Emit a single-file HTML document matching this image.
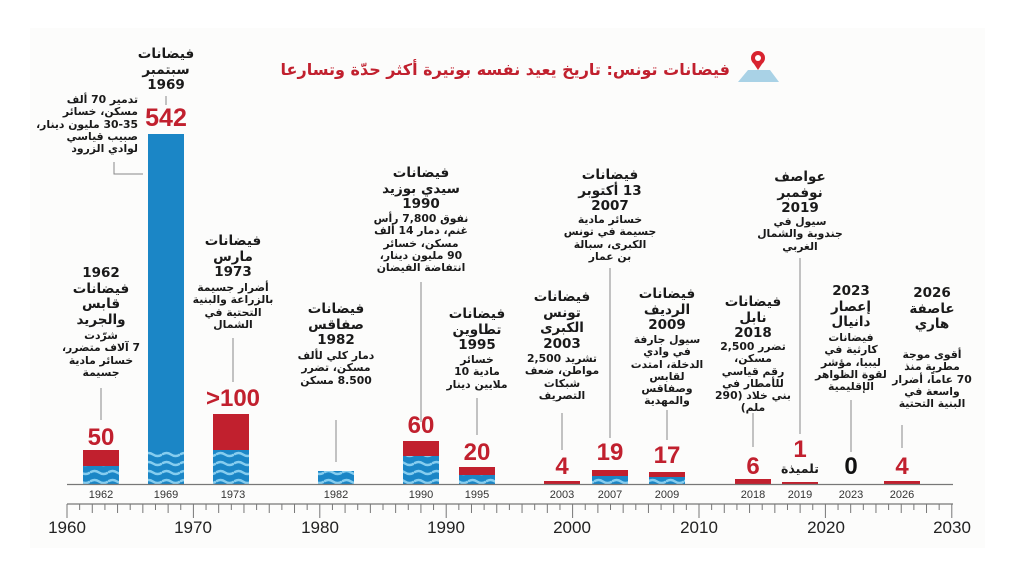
<!DOCTYPE html>
<html><head><meta charset="utf-8"><style>
body{margin:0;background:#fff;}
#c{position:relative;width:1024px;height:576px;overflow:hidden;background:#fff;font-family:"DejaVu Sans","Liberation Sans",sans-serif;}
.t{position:absolute;width:130px;text-align:center;direction:rtl;color:#1a1a1a;font-weight:bold;font-size:13.5px;line-height:15.5px;}
.d{position:absolute;width:130px;text-align:center;direction:rtl;color:#1a1a1a;font-size:10.8px;line-height:12.3px;font-weight:bold;letter-spacing:-0.3px}
.n{position:absolute;width:80px;text-align:center;color:#c1202e;font-weight:bold;font-size:24px;font-family:"Liberation Sans",sans-serif;}
svg text{font-family:"Liberation Sans",sans-serif;}
</style></head><body><div id="c">
<svg width="1024" height="576" style="position:absolute;left:0;top:0">
<defs><pattern id="w" width="18" height="9" patternUnits="userSpaceOnUse"><rect width="18" height="9" fill="#1b86c6"/><path d="M0 4.5 q4.5 -3 9 0 t9 0" stroke="#86cdef" stroke-width="2.5" fill="none"/></pattern></defs>
<rect x="30" y="28" width="955" height="520" fill="#fcfcfb"/>
<rect x="148" y="134" width="36" height="316" fill="#1b86c6"/><rect x="148" y="450" width="36" height="34" fill="url(#w)"/>
<rect x="83" y="450" width="36" height="18" fill="#c1202e"/><rect x="83" y="466" width="36" height="18" fill="url(#w)"/>
<rect x="213" y="414" width="36" height="38" fill="#c1202e"/><rect x="213" y="450" width="36" height="34" fill="url(#w)"/>
<rect x="318" y="471" width="36" height="13" fill="url(#w)"/>
<rect x="403" y="441" width="36" height="17" fill="#c1202e"/><rect x="403" y="456" width="36" height="28" fill="url(#w)"/>
<rect x="459" y="467" width="36" height="10" fill="#c1202e"/><rect x="459" y="475" width="36" height="9" fill="url(#w)"/>
<rect x="592" y="470" width="36" height="7" fill="#c1202e"/><rect x="592" y="476" width="36" height="8" fill="url(#w)"/>
<rect x="649" y="472" width="36" height="6" fill="#c1202e"/><rect x="649" y="477" width="36" height="7" fill="url(#w)"/>
<rect x="544" y="481" width="36" height="3" fill="#c1202e"/>
<rect x="735" y="479" width="36" height="5" fill="#c1202e"/>
<rect x="782" y="482" width="36" height="2" fill="#c1202e"/>
<rect x="884" y="481" width="36" height="3" fill="#c1202e"/>
<line x1="67" y1="484.5" x2="953" y2="484.5" stroke="#777" stroke-width="1.2"/>
<g stroke="#888" stroke-width="1" fill="none">
<line x1="166" y1="96" x2="166" y2="105"/>
<polyline points="114,162 114,174 143,174"/>
<line x1="101" y1="388" x2="101" y2="420"/>
<line x1="233" y1="338" x2="233" y2="382"/>
<line x1="336" y1="420" x2="336" y2="462"/>
<line x1="421" y1="282" x2="421" y2="422"/>
<line x1="477" y1="398" x2="477" y2="435"/>
<line x1="562" y1="413" x2="562" y2="450"/>
<line x1="610" y1="268" x2="610" y2="438"/>
<line x1="667" y1="410" x2="667" y2="440"/>
<line x1="753" y1="413" x2="753" y2="447"/>
<line x1="800" y1="258" x2="800" y2="434"/>
<line x1="851" y1="400" x2="851" y2="452"/>
<line x1="902" y1="425" x2="902" y2="448"/>
</g>
<line x1="67" y1="504" x2="953" y2="504" stroke="#777" stroke-width="1.2"/>
<g stroke="#777" stroke-width="1" id="ticks"></g>
<g font-size="11" fill="#333" text-anchor="middle">
<text x="101" y="498">1962</text><text x="166" y="498">1969</text><text x="233" y="498">1973</text><text x="336" y="498">1982</text><text x="421" y="498">1990</text><text x="477" y="498">1995</text><text x="562" y="498">2003</text><text x="610" y="498">2007</text><text x="667" y="498">2009</text><text x="753" y="498">2018</text><text x="800" y="498">2019</text><text x="851" y="498">2023</text><text x="902" y="498">2026</text>
</g>
<g font-size="17" fill="#222" text-anchor="middle">
<text x="67" y="533">1960</text><text x="193" y="533">1970</text><text x="320" y="533">1980</text><text x="446" y="533">1990</text><text x="572" y="533">2000</text><text x="699" y="533">2010</text><text x="826" y="533">2020</text><text x="952" y="533">2030</text>
</g>
<path d="M738 82 L748 70 L770 70 L779 82 Z" fill="#a9d2e6"/>
<circle cx="758" cy="58" r="7" fill="#d8232f"/><path d="M752 61 L758 70 L764 61Z" fill="#d8232f"/><circle cx="758" cy="58" r="3" fill="#fff"/>
</svg>
<script>
var g=document.getElementById('ticks'),s='';
for(var i=0;i<=70;i++){var x=67+i*12.64;var L=(i%10==0)?14:(i%2==0?9:6);s+='<line x1="'+x+'" y1="504" x2="'+x+'" y2="'+(504+L)+'"/>';}
g.innerHTML=s;
</script>
<div style="position:absolute;left:280px;top:60px;width:450px;text-align:right;direction:rtl;color:#c1202e;font-weight:bold;font-size:16px">فيضانات تونس: تاريخ يعيد نفسه بوتيرة أكثر حدّة وتسارعا</div>

<div class="t" style="left:101px;top:47px">فيضانات<br>سبتمبر<br>1969</div>
<div class="n" style="left:126px;top:104px;font-size:25px">542</div>
<div class="d" style="left:8px;top:94px;width:130px;text-align:right">تدمير 70 ألف<br>مسكن، خسائر<br>30-35 مليون دينار،<br>صبيب قياسي<br>لوادي الزرود</div>

<div class="t" style="left:36px;top:266px">1962<br>فيضانات<br>قابس<br>والجريد</div>
<div class="d" style="left:36px;top:330px">شرّدت<br>7 آلاف متضرر،<br>خسائر مادية<br>جسيمة</div>
<div class="n" style="left:61px;top:424px">50</div>

<div class="t" style="left:168px;top:234px">فيضانات<br>مارس<br>1973</div>
<div class="d" style="left:168px;top:282px">أضرار جسيمة<br>بالزراعة والبنية<br>التحتية في<br>الشمال</div>
<div class="n" style="left:193px;top:385px">&gt;100</div>

<div class="t" style="left:271px;top:302px">فيضانات<br>صفاقس<br>1982</div>
<div class="d" style="left:271px;top:350px">دمار كلي لألف<br>مسكن، تضرر<br>8.500 مسكن</div>

<div class="t" style="left:356px;top:166px">فيضانات<br>سيدي بوزيد<br>1990</div>
<div class="d" style="left:356px;top:213px">نفوق 7,800 رأس<br>غنم، دمار 14 ألف<br>مسكن، خسائر<br>90 مليون دينار،<br>انتفاضة الفيضان</div>
<div class="n" style="left:381px;top:412px">60</div>

<div class="t" style="left:412px;top:307px">فيضانات<br>تطاوين<br>1995</div>
<div class="d" style="left:412px;top:354px">خسائر<br>مادية 10<br>ملايين دينار</div>
<div class="n" style="left:437px;top:439px">20</div>

<div class="t" style="left:497px;top:290px">فيضانات<br>تونس<br>الكبرى<br>2003</div>
<div class="d" style="left:497px;top:353px">تشريد 2,500<br>مواطن، ضعف<br>شبكات<br>التصريف</div>
<div class="n" style="left:522px;top:453px">4</div>

<div class="t" style="left:545px;top:168px">فيضانات<br>13 أكتوبر<br>2007</div>
<div class="d" style="left:545px;top:214px">خسائر مادية<br>جسيمة في تونس<br>الكبرى، سبالة<br>بن عمار</div>
<div class="n" style="left:570px;top:439px">19</div>

<div class="t" style="left:602px;top:287px">فيضانات<br>الرديف<br>2009</div>
<div class="d" style="left:602px;top:334px">سيول جارفة<br>في وادي<br>الدخلة، امتدت<br>لقابس<br>وصفاقس<br>والمهدية</div>
<div class="n" style="left:627px;top:442px">17</div>

<div class="t" style="left:688px;top:295px">فيضانات<br>نابل<br>2018</div>
<div class="d" style="left:688px;top:341px">تضرر 2,500<br>مسكن،<br>رقم قياسي<br>للأمطار في<br>بني خلاد (290<br>ملم)</div>
<div class="n" style="left:713px;top:453px">6</div>

<div class="t" style="left:735px;top:170px">عواصف<br>نوفمبر<br>2019</div>
<div class="d" style="left:735px;top:216px">سيول في<br>جندوبة والشمال<br>الغربي</div>
<div class="n" style="left:760px;top:436px">1</div>
<div class="t" style="left:735px;top:461px;font-size:12.5px">تلميذة</div>

<div class="t" style="left:786px;top:284px">2023<br>إعصار<br>دانيال</div>
<div class="d" style="left:786px;top:332px">فيضانات<br>كارثية في<br>ليبيا، مؤشر<br>لقوة الظواهر<br>الإقليمية</div>
<div class="n" style="left:811px;top:453px;color:#111">0</div>

<div class="t" style="left:867px;top:286px">2026<br>عاصفة<br>هاري</div>
<div class="d" style="left:867px;top:349px">أقوى موجة<br>مطرية منذ<br>70 عاماً، أضرار<br>واسعة في<br>البنية التحتية</div>
<div class="n" style="left:862px;top:453px">4</div>
</div></body></html>
